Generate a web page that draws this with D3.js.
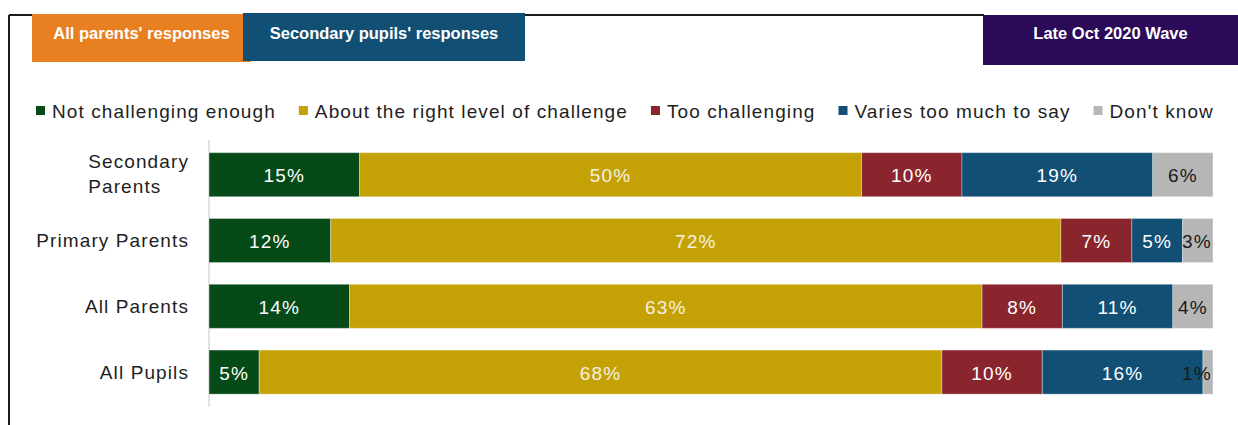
<!DOCTYPE html>
<html>
<head>
<meta charset="utf-8">
<script src="https://cdn.jsdelivr.net/npm/d3@7"></script>
<style>
  html, body { margin: 0; padding: 0; background: #ffffff; }
  svg { display: block; font-family: "Liberation Sans", Arial, sans-serif; }
</style>
</head>
<body>
<svg id="chart" width="1238" height="425"></svg>
<script>
// ---- data ----
const categories = ["Secondary Parents", "Primary Parents", "All Parents", "All Pupils"];
const seriesNames = ["Not challenging enough", "About the right level of challenge", "Too challenging", "Varies too much to say", "Don't know"];
const notChallenging = [15, 12, 14, 5];
const rightLevel = [50, 72, 63, 68];
const tooChallenging = [10, 7, 8, 10];
const variesTooMuch = [19, 5, 11, 16];
const dontKnow = [6, 3, 4, 1];
const seriesColors = ["#054a17", "#c4a205", "#8a252d", "#124f74", "#b6b6b6"];
const labelColors = ["#ffffff", "#f4f0e0", "#ffffff", "#ffffff", "#1a1a1a"];
const tabLabels = ["All parents' responses", "Secondary pupils' responses"];
const waveLabel = "Late Oct 2020 Wave";

const seriesValues = [notChallenging, rightLevel, tooChallenging, variesTooMuch, dontKnow];

// table for stacking (100% stacked: normalise each row)
const table = categories.map((c, i) => {
  const row = { category: c };
  const total = d3.sum(seriesValues, s => s[i]);
  seriesNames.forEach((n, j) => { row[n] = seriesValues[j][i] / total; row[n + "_raw"] = seriesValues[j][i]; });
  return row;
});
const stacked = d3.stack().keys(seriesNames)(table);

const svg = d3.select("#chart");

// ---- frame ----
svg.append("line").attr("x1", 9).attr("x2", 9).attr("y1", 15).attr("y2", 425)
  .attr("stroke", "#1a1a1a").attr("stroke-width", 2);
svg.append("line").attr("x1", 9).attr("x2", 984).attr("y1", 15).attr("y2", 15)
  .attr("stroke", "#1a1a1a").attr("stroke-width", 2);

// ---- tabs ----
const tabs = [
  { x: 32, y: 14, w: 219, h: 48, fill: "#e87f20", text: tabLabels[0] },
  { x: 243, y: 13, w: 282, h: 48, fill: "#124f74", text: tabLabels[1] },
  { x: 983, y: 15, w: 255, h: 50, fill: "#2a0a59", text: waveLabel }
];
tabs.forEach(t => {
  svg.append("rect").attr("x", t.x).attr("y", t.y).attr("width", t.w).attr("height", t.h).attr("fill", t.fill);
  svg.append("text").attr("x", t.x + t.w / 2).attr("y", 33)
    .attr("text-anchor", "middle").attr("dominant-baseline", "central")
    .attr("fill", "#ffffff").attr("font-size", 16.5).attr("font-weight", "bold")
    .text(t.text);
});

// ---- scales ----
const x = d3.scaleLinear().domain([0, 1]).range([209, 1213]);
const y = d3.scaleBand().domain(categories).range([141.8, 405]).paddingInner(0.33).paddingOuter(0.165);

// ---- axis line ----
svg.append("line").attr("x1", x(0)).attr("x2", x(0)).attr("y1", 140).attr("y2", 407)
  .attr("stroke", "#d9d9d9").attr("stroke-width", 1.5);

// ---- bars ----
const groups = svg.append("g").selectAll("g").data(stacked).join("g")
  .attr("fill", (d, i) => seriesColors[i]);
groups.selectAll("rect").data(d => d.map(p => ({ p, key: d.key }))).join("rect")
  .attr("x", d => x(d.p[0]))
  .attr("y", d => y(d.p.data.category))
  .attr("width", d => x(d.p[1]) - x(d.p[0]))
  .attr("height", y.bandwidth())
  .attr("stroke", "#ffffff").attr("stroke-opacity", 0.35).attr("stroke-width", 1);

// ---- data labels ----
const labG = svg.append("g").attr("font-size", 19).attr("letter-spacing", "1.2px");
stacked.forEach((s, i) => {
  s.forEach(p => {
    const raw = p.data[s.key + "_raw"];
    const txt = raw + "%";
    const cx = Math.min((x(p[0]) + x(p[1])) / 2, x(1) - 16);
    labG.append("text")
      .attr("x", cx)
      .attr("y", y(p.data.category) + y.bandwidth() / 2 + 1)
      .attr("text-anchor", "middle").attr("dominant-baseline", "central")
      .attr("fill", labelColors[i])
      .text(txt);
  });
});

// ---- category labels ----
const catG = svg.append("g").attr("font-size", 19).attr("letter-spacing", "1.1px").attr("fill", "#1e1e1e");
categories.forEach(c => {
  const cy = y(c) + y.bandwidth() / 2;
  const t = catG.append("text").attr("x", 189).attr("y", cy).attr("text-anchor", "end")
    .attr("dominant-baseline", "central").text(c);
  if (t.node().getComputedTextLength() > 165) {
    const words = c.split(" ");
    t.remove();
    const lines = [words[0], words.slice(1).join(" ")];
    const tmp = lines.map(l => {
      const tt = catG.append("text").text(l);
      const w = tt.node().getComputedTextLength();
      tt.remove();
      return w;
    });
    const left = 189 - d3.max(tmp);
    lines.forEach((l, k) => {
      catG.append("text").attr("x", left).attr("y", cy + (k - 0.5) * 25 - 0.5)
        .attr("text-anchor", "start").attr("dominant-baseline", "central").text(l);
    });
  }
});

// ---- legend ----
const legG = svg.append("g").attr("font-size", 19).attr("letter-spacing", "1.1px").attr("fill", "#1e1e1e");
let lx = 36;
seriesNames.forEach((n, i) => {
  legG.append("rect").attr("x", lx).attr("y", 106).attr("width", 9).attr("height", 9).attr("fill", seriesColors[i]);
  const t = legG.append("text").attr("x", lx + 16).attr("y", 111).attr("dominant-baseline", "central").text(n);
  lx = lx + 16 + t.node().getComputedTextLength() + 23;
});
</script>
</body>
</html>
